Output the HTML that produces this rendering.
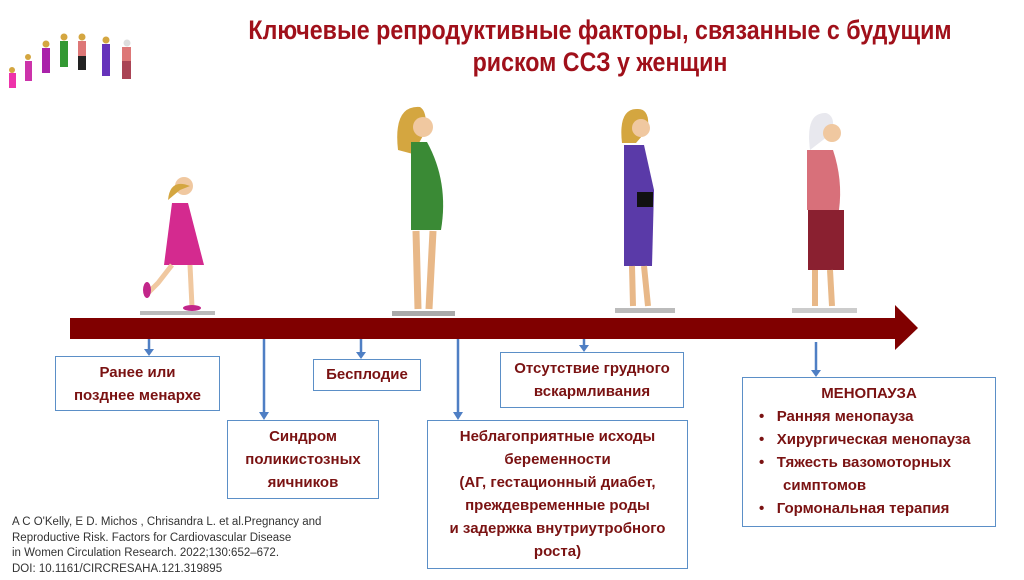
<!DOCTYPE html>
<html><head><meta charset="utf-8"><style>
body{margin:0;width:1024px;height:580px;background:#fff;position:relative;overflow:hidden;font-family:"Liberation Sans",sans-serif}
.t{position:absolute;left:160px;width:880px;text-align:center;color:#a0101a;font-weight:bold;font-size:27px;transform:scaleX(0.86);transform-origin:center}
.b{position:absolute;border:1.5px solid #5b8fc7;box-sizing:border-box;color:#7a1212;font-weight:bold;font-size:15px;line-height:23px;text-align:center}
.ref{position:absolute;left:12px;top:515px;font-size:11.5px;line-height:15.5px;color:#333}
</style></head><body>
<div class="t" style="top:15px">Ключевые репродуктивные факторы, связанные с будущим</div>
<div class="t" style="top:47px">риском ССЗ у женщин</div>
<svg width="1024" height="580" style="position:absolute;left:0;top:0">
<!-- small header figures -->
<g>
<circle cx="12" cy="70" r="3" fill="#d4a640"/><rect x="9" y="73" width="7" height="15" fill="#e3a"/>
<circle cx="28" cy="57" r="3" fill="#d4a640"/><rect x="25" y="61" width="7" height="20" fill="#c3a"/>
<circle cx="46" cy="44" r="3.5" fill="#d4a640"/><rect x="42" y="48" width="8" height="25" fill="#a2a"/>
<circle cx="64" cy="37" r="3.5" fill="#d4a640"/><rect x="60" y="41" width="8" height="26" fill="#393"/>
<circle cx="82" cy="37" r="3.5" fill="#d4a640"/><rect x="78" y="41" width="8" height="15" fill="#d77"/><rect x="78" y="56" width="8" height="14" fill="#222"/>
<circle cx="106" cy="40" r="3.5" fill="#d4a640"/><rect x="102" y="44" width="8" height="32" fill="#63b"/>
<circle cx="127" cy="43" r="3.5" fill="#ddd"/><rect x="122" y="47" width="9" height="14" fill="#d77"/><rect x="122" y="61" width="9" height="18" fill="#a45"/>
</g>
<!-- shadows -->
<rect x="140" y="311" width="75" height="4" fill="#bbb"/><rect x="392" y="311" width="63" height="5" fill="#aaa"/><rect x="615" y="308" width="60" height="5" fill="#bbb"/><rect x="792" y="308" width="65" height="5" fill="#ccc"/>
<!-- girl -->
<circle cx="184" cy="186" r="9" fill="#f0c8a0"/><path d="M168 200 q2-22 22-14 l-10 4 z" fill="#d4a640"/>
<path d="M172 203 h16 l16 62 h-40 z" fill="#d42a8f"/>
<path d="M172 265 l-14 18 l-10 10 M190 265 l2 42" stroke="#f0c8a0" stroke-width="5" fill="none"/>
<ellipse cx="147" cy="290" rx="4" ry="8" fill="#c2268a"/><ellipse cx="192" cy="308" rx="9" ry="3" fill="#c2268a"/>
<!-- pregnant -->
<path d="M398 150 q-5-45 22-43 q8 5 5 25 l-12 22 z" fill="#d4a640"/><circle cx="423" cy="127" r="10" fill="#f0c8a0"/>
<path d="M411 142 h16 q22 40 14 88 h-30 z" fill="#3a8a35"/>
<path d="M416 231 l2 78 M433 231 l-4 78" stroke="#e8b888" stroke-width="7" fill="none"/>
<!-- purple -->
<path d="M622 143 q-4-35 16-34 q12 0 10 20 l-12 14 z" fill="#d4a640"/><circle cx="641" cy="128" r="9" fill="#f0c8a0"/>
<path d="M624 145 h20 l10 45 l-2 76 h-28 z" fill="#5a3aa8"/><rect x="637" y="192" width="16" height="15" fill="#111"/>
<path d="M632 266 l1 40 M644 266 l4 40" stroke="#e8b888" stroke-width="6" fill="none"/>
<!-- old -->
<path d="M810 150 q-5-38 16-37 q10 3 6 20 z" fill="#e8e8ee"/><circle cx="832" cy="133" r="9" fill="#f0c8a0"/>
<path d="M807 150 h26 q10 30 6 60 h-32 z" fill="#d8707a"/><path d="M808 210 h36 v60 h-36 z" fill="#8a2030"/>
<path d="M815 270 l0 36 M830 270 l2 36" stroke="#e8b888" stroke-width="6" fill="none"/>
<!-- timeline -->
<rect x="70" y="318" width="828" height="21" fill="#800000"/>
<polygon points="895,305 918,328 895,350" fill="#800000"/>
<g stroke="#4f7fc4" stroke-width="2.5" fill="#4f7fc4">
<line x1="149" y1="339" x2="149" y2="350"/><polygon points="144,349 154,349 149,356" stroke="none"/>
<line x1="264" y1="339" x2="264" y2="414"/><polygon points="259,412 269,412 264,420" stroke="none"/>
<line x1="361" y1="339" x2="361" y2="353"/><polygon points="356,352 366,352 361,359" stroke="none"/>
<line x1="458" y1="339" x2="458" y2="414"/><polygon points="453,412 463,412 458,420" stroke="none"/>
<line x1="584" y1="339" x2="584" y2="346"/><polygon points="579,345 589,345 584,352" stroke="none"/>
<line x1="816" y1="342" x2="816" y2="371"/><polygon points="811,370 821,370 816,377" stroke="none"/>
</g>
</svg>
<div class="b" style="left:55px;top:356px;width:165px;height:55px;padding-top:4px">Ранее или<br>позднее менархе</div>
<div class="b" style="left:227px;top:420px;width:152px;height:79px;padding-top:4px">Синдром<br>поликистозных<br>яичников</div>
<div class="b" style="left:313px;top:359px;width:108px;height:32px;padding-top:3px">Бесплодие</div>
<div class="b" style="left:500px;top:352px;width:184px;height:56px;padding-top:4px">Отсутствие грудного<br>вскармливания</div>
<div class="b" style="left:427px;top:420px;width:261px;height:149px;padding-top:4px">Неблагоприятные исходы<br>беременности<br>(АГ, гестационный диабет,<br>преждевременные роды<br>и задержка внутриутробного<br>роста)</div>
<div class="b" style="left:742px;top:377px;width:254px;height:150px;padding-top:4px;text-align:left">
<div style="text-align:center">МЕНОПАУЗА</div>
<div style="padding-left:16px">•&nbsp;&nbsp;&nbsp;Ранняя менопауза<br>•&nbsp;&nbsp;&nbsp;Хирургическая менопауза<br>•&nbsp;&nbsp;&nbsp;Тяжесть вазомоторных<br><span style="padding-left:24px">симптомов</span><br>•&nbsp;&nbsp;&nbsp;Гормональная терапия</div></div>
<div class="ref">A C O'Kelly, E D. Michos , Chrisandra L. et al.Pregnancy and<br>Reproductive Risk. Factors for Cardiovascular Disease<br>in Women Circulation Research. 2022;130:652–672.<br>DOI: 10.1161/CIRCRESAHA.121.319895</div>
</body></html>
